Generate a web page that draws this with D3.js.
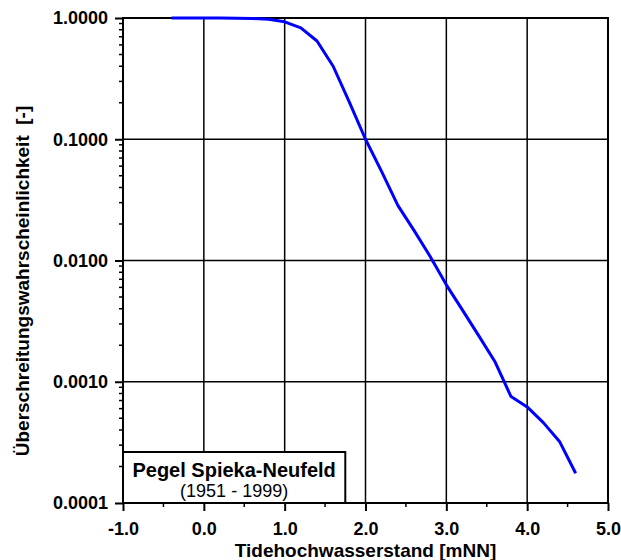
<!DOCTYPE html>
<html>
<head>
<meta charset="utf-8">
<script src="https://cdn.jsdelivr.net/npm/d3@7"></script>
<style>
  body { margin: 0; background: #fff; }
  text { font-family: "Liberation Sans", Arial, sans-serif; }
</style>
</head>
<body>
<div id="graf"></div>
<script>
// Tidehochwasserstand [mNN]
const wasserstand = [-0.4, -0.2, 0.0, 0.2, 0.4, 0.6, 0.8, 1.0, 1.2, 1.4, 1.6, 1.8, 2.0, 2.2, 2.4, 2.6, 2.8, 3.0, 3.2, 3.4, 3.6, 3.8, 4.0, 4.2, 4.4, 4.6]
// Überschreitungswahrscheinlichkeit [-]
const wahrscheinlichkeit = [1.0, 1.0, 0.999, 0.998, 0.995, 0.99, 0.975, 0.93, 0.83, 0.646, 0.40, 0.202, 0.1, 0.054, 0.0285, 0.0177, 0.0108, 0.0063, 0.0039, 0.0024, 0.00147, 0.000755, 0.00062, 0.00046, 0.000322, 0.000176]

const xTicks = [-1, 0, 1, 2, 3, 4, 5]
const yTicks = [1, 0.1, 0.01, 0.001, 0.0001]

const data = wasserstand.map((w, i) => ({ x: w, p: wahrscheinlichkeit[i] }))

const margins = { left: 123, top: 18, right: 13, bottom: 57 }
const anchoTotal = 621
const altoTotal = 560
const ancho = anchoTotal - margins.left - margins.right
const alto = altoTotal - margins.top - margins.bottom

const svg = d3.select("#graf")
  .append("svg")
  .attr("width", anchoTotal)
  .attr("height", altoTotal)

const g = svg.append("g")
  .attr("transform", `translate(${margins.left}, ${margins.top})`)

const x = d3.scaleLinear().domain([-1, 5]).range([0, ancho])
const y = d3.scaleLog().domain([0.0001, 1]).range([alto, 0])

// gridlines
g.append("g")
  .selectAll("line")
  .data(xTicks.slice(1, -1))
  .join("line")
  .attr("x1", d => x(d)).attr("x2", d => x(d))
  .attr("y1", 0).attr("y2", alto)
  .attr("stroke", "#000").attr("stroke-width", 1.5)

g.append("g")
  .selectAll("line")
  .data(yTicks.slice(1, -1))
  .join("line")
  .attr("x1", 0).attr("x2", ancho)
  .attr("y1", d => y(d)).attr("y2", d => y(d))
  .attr("stroke", "#000").attr("stroke-width", 1.5)

// minor log ticks on y
const minorY = []
for (let e = -4; e < 0; e++) {
  for (let k = 2; k <= 9; k++) minorY.push(k * Math.pow(10, e))
}
g.append("g")
  .selectAll("line")
  .data(minorY)
  .join("line")
  .attr("x1", -4).attr("x2", 0)
  .attr("y1", d => y(d)).attr("y2", d => y(d))
  .attr("stroke", "#000").attr("stroke-width", 1.5)

// minor ticks on x
const minorX = d3.range(-0.5, 5, 1)
g.append("g")
  .selectAll("line")
  .data(minorX)
  .join("line")
  .attr("x1", d => x(d)).attr("x2", d => x(d))
  .attr("y1", alto).attr("y2", alto + 4)
  .attr("stroke", "#000").attr("stroke-width", 1.5)

// axes
const fmtX = d => d3.format(".1f")(d).replace("\u2212", "-")
const xAxis = d3.axisBottom(x).tickValues(xTicks).tickSize(8).tickPadding(11)
  .tickFormat(fmtX)
const yAxis = d3.axisLeft(y).tickValues(yTicks).tickSize(8).tickPadding(7)
  .tickFormat(d3.format(".4f"))

const gx = g.append("g")
  .attr("transform", `translate(0, ${alto})`)
  .call(xAxis)
const gy = g.append("g").call(yAxis)

;[gx, gy].forEach(a => {
  a.select(".domain").remove()
  a.selectAll(".tick line").attr("stroke", "#000").attr("stroke-width", 2)
  a.selectAll(".tick text")
    .attr("fill", "#000")
    .style("font-family", "'Liberation Sans', Arial, sans-serif")
    .style("font-size", "18px")
    .style("font-weight", "bold")
})

// frame
g.append("rect")
  .attr("x", 0).attr("y", 0)
  .attr("width", ancho).attr("height", alto)
  .attr("fill", "none")
  .attr("stroke", "#000").attr("stroke-width", 2)

// curve
const linea = d3.line()
  .x(d => x(d.x))
  .y(d => y(d.p))

g.append("path")
  .datum(data)
  .attr("d", linea)
  .attr("fill", "none")
  .attr("stroke", "#0000ff")
  .attr("stroke-width", 3)
  .attr("stroke-linejoin", "round")

// legend box
const leg = g.append("g")
leg.append("rect")
  .attr("x", x(-1)).attr("y", alto - 51)
  .attr("width", x(1.75) - x(-1)).attr("height", 51)
  .attr("fill", "#fff")
  .attr("stroke", "#000").attr("stroke-width", 2)
leg.append("text")
  .attr("x", (x(-1) + x(1.75)) / 2)
  .attr("y", alto - 26)
  .attr("text-anchor", "middle")
  .style("font-size", "20px")
  .style("font-weight", "bold")
  .text("Pegel Spieka-Neufeld")
leg.append("text")
  .attr("x", (x(-1) + x(1.75)) / 2)
  .attr("y", alto - 6)
  .attr("text-anchor", "middle")
  .style("font-size", "18px")
  .text("(1951 - 1999)")

// axis titles
g.append("text")
  .attr("x", ancho / 2)
  .attr("y", alto + 54)
  .attr("text-anchor", "middle")
  .style("font-size", "19px")
  .style("font-weight", "bold")
  .text("Tidehochwasserstand [mNN]")

svg.append("text")
  .attr("transform", `translate(29, 281) rotate(-90)`)
  .attr("text-anchor", "middle")
  .style("font-size", "19px")
  .style("font-weight", "bold")
  .style("white-space", "pre")
  .text("Überschreitungswahrscheinlichkeit  [-]")
</script>
</body>
</html>
